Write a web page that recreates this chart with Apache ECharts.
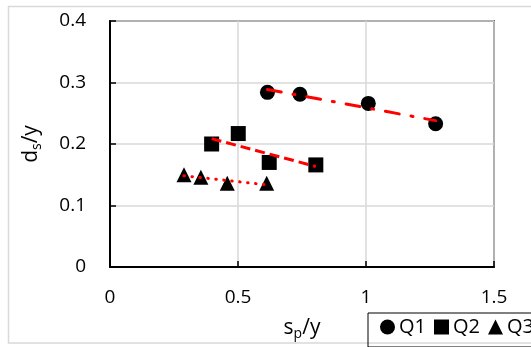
<!DOCTYPE html>
<html>
<head>
<meta charset="utf-8">
<script src="https://cdn.jsdelivr.net/npm/echarts@6/dist/echarts.min.js"></script>
<style>
  html, body { margin: 0; padding: 0; background: #fff; }
  #chart { width: 531px; height: 347px; }
</style>
</head>
<body>
<div id="chart"></div>
<script>
// Spacing ratio s_p/y (x) against d_s/y (y) for three flow rates
const q1X = [0.615, 0.742, 1.009, 1.272];
const q1Y = [0.284, 0.281, 0.266, 0.233];
const q2X = [0.397, 0.501, 0.622, 0.804];
const q2Y = [0.200, 0.217, 0.170, 0.166];
const q3X = [0.289, 0.355, 0.458, 0.612];
const q3Y = [0.150, 0.146, 0.136, 0.136];
const seriesNames = ['Q1', 'Q2', 'Q3'];
const xTicks = [0, 0.5, 1, 1.5];
const yTicks = [0, 0.1, 0.2, 0.3, 0.4];

const FONT = '"Open Sans", "Noto Sans", sans-serif';

function pairs(xs, ys) { return xs.map((x, i) => [x, ys[i]]); }

// least-squares linear trend drawn across the data's x range
function trend(xs, ys) {
  const n = xs.length;
  const mx = xs.reduce((a, b) => a + b, 0) / n;
  const my = ys.reduce((a, b) => a + b, 0) / n;
  let sxy = 0, sxx = 0;
  for (let i = 0; i < n; i++) { sxy += (xs[i] - mx) * (ys[i] - my); sxx += (xs[i] - mx) ** 2; }
  const b = sxy / sxx, a = my - b * mx;
  const x0 = Math.min(...xs), x1 = Math.max(...xs);
  return [[x0, a + b * x0], [x1, a + b * x1]];
}

const chart = echarts.init(document.getElementById('chart'), null, { renderer: 'canvas' });

const scatterBase = { type: 'scatter', symbolSize: 15, itemStyle: { color: '#000', opacity: 1 }, emphasis: { disabled: true }, z: 3 };
const trendBase = { type: 'line', symbol: 'none', silent: true, z: 5, legendHoverLink: false };

const richTitle = {
  a: { fontFamily: FONT, fontSize: 21, color: '#000' },
  b: { fontFamily: FONT, fontSize: 14, color: '#000', verticalAlign: 'bottom', padding: [11, 0, 0, 0] }
};

chart.setOption({
  animation: false,
  backgroundColor: '#fff',
  grid: { left: 110, top: 21, right: 37, bottom: 80, show: true, borderColor: '#000', borderWidth: 1.5, backgroundColor: 'transparent' },
  xAxis: {
    type: 'value', min: xTicks[0], max: xTicks[xTicks.length - 1], interval: 0.5,
    name: '{a|s}{b|p}{a|/y}', nameLocation: 'middle', nameGap: 49,
    nameTextStyle: { rich: richTitle },
    axisLine: { onZero: false, lineStyle: { color: '#000', width: 2 } },
    axisTick: { inside: true, length: 6, lineStyle: { color: '#000', width: 1.5 } },
    axisLabel: { fontFamily: FONT, fontSize: 19, color: '#000', margin: 21, formatter: v => String(v) },
    splitLine: { lineStyle: { color: '#d9d9d9', width: 1.5 } }
  },
  yAxis: {
    type: 'value', min: yTicks[0], max: yTicks[yTicks.length - 1], interval: 0.1,
    name: '{a|d}{b|s}{a|/y}', nameLocation: 'middle', nameGap: 66,
    nameTextStyle: { rich: richTitle },
    axisLine: { onZero: false, lineStyle: { color: '#000', width: 2 } },
    axisTick: { inside: true, length: 6, lineStyle: { color: '#000', width: 1.5 } },
    axisLabel: { fontFamily: FONT, fontSize: 19, color: '#000', margin: 24, formatter: v => String(v) },
    splitLine: { lineStyle: { color: '#d9d9d9', width: 1.5 } }
  },
  legend: {
    left: 368, top: 313, width: 400, orient: 'horizontal',
    data: [
      { name: seriesNames[0], icon: 'circle' },
      { name: seriesNames[1], icon: 'rect' },
      { name: seriesNames[2], icon: 'triangle' }
    ],
    itemWidth: 15, itemHeight: 15, itemGap: 8,
    padding: [4, 6, 10, 12],
    borderColor: '#000', borderWidth: 1,
    inactiveColor: '#000',
    textStyle: { fontFamily: FONT, fontSize: 20, color: '#000', padding: [0, 0, 0, -1] }
  },
  graphic: [
    { type: 'rect', silent: true, z: -10, shape: { x: 8.5, y: 6.5, width: 540, height: 336.5 }, style: { fill: 'none', stroke: '#d9d9d9', lineWidth: 1.5 } }
  ],
  series: [
    Object.assign({ name: seriesNames[0], symbol: 'circle', data: pairs(q1X, q1Y) }, scatterBase),
    Object.assign({ name: seriesNames[1], symbol: 'rect', data: pairs(q2X, q2Y) }, scatterBase),
    Object.assign({ name: seriesNames[2], symbol: 'triangle', data: pairs(q3X, q3Y) }, scatterBase),
    Object.assign({ data: trend(q1X, q1Y), lineStyle: { color: '#ff0000', width: 3, type: [14, 12, 2, 12], cap: 'round' } }, trendBase),
    Object.assign({ data: trend(q2X, q2Y), lineStyle: { color: '#ff0000', width: 3, type: [10, 5], cap: 'butt' } }, trendBase),
    Object.assign({ data: trend(q3X, q3Y), lineStyle: { color: '#ff0000', width: 3, type: [0.5, 7.5], cap: 'round' } }, trendBase)
  ]
});
</script>
</body>
</html>
